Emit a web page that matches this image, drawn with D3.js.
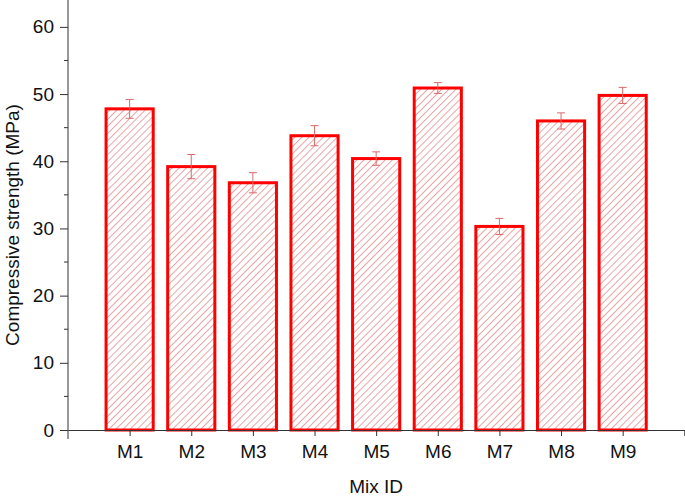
<!DOCTYPE html>
<html>
<head>
<meta charset="utf-8">
<script src="https://cdn.jsdelivr.net/npm/d3@7"></script>
<style>
  body { margin: 0; background: #fff; }
  text { font-family: "Liberation Sans", Arial, sans-serif; fill: #111; }
</style>
</head>
<body>
<script>
// data
const mixes = ["M1", "M2", "M3", "M4", "M5", "M6", "M7", "M8", "M9"];
const strength = [47.8, 39.2, 36.8, 43.8, 40.4, 50.9, 30.3, 46.0, 49.8];
const errs = [1.4, 1.8, 1.5, 1.5, 1.0, 0.8, 1.2, 1.2, 1.2];
const yTicks = [0, 10, 20, 30, 40, 50, 60];
const yMinor = [5, 15, 25, 35, 45, 55];

const WIDTH = 685
const HEIGHT = 497

const svg = d3.select("body").append("svg")
    .attr("width", WIDTH)
    .attr("height", HEIGHT)

// hatch pattern
const defs = svg.append("defs")
defs.append("pattern")
    .attr("id", "hatch")
    .attr("patternUnits", "userSpaceOnUse")
    .attr("width", 5)
    .attr("height", 5)
    .attr("patternTransform", "rotate(45)")
  .append("line")
    .attr("x1", 0).attr("y1", 0)
    .attr("x2", 0).attr("y2", 5)
    .attr("stroke", "#d86a6a")
    .attr("stroke-width", 1.2)

const x = d3.scaleLinear().domain([0, 10]).range([68, 684.3])
const y = d3.scaleLinear().domain([0, 64]).range([430, 0])
const step = x(1) - x(0)
const bw = step * 0.765

// bars
svg.selectAll("rect.bar")
  .data(strength)
  .enter()
  .append("rect")
  .attr("class", "bar")
  .attr("x", (d, i) => x(i + 1) - bw / 2)
  .attr("y", d => y(d))
  .attr("width", bw)
  .attr("height", d => y(0) - y(d))
  .attr("fill", "url(#hatch)")
  .attr("stroke", "#ff0000")
  .attr("stroke-width", 3)

// error bars
const eb = svg.append("g").attr("stroke", "#d96a6a").attr("stroke-width", 1)
strength.forEach((d, i) => {
  const cx = x(i + 1)
  eb.append("line").attr("x1", cx).attr("x2", cx).attr("y1", y(d + errs[i])).attr("y2", y(d - errs[i]))
  eb.append("line").attr("x1", cx - 4).attr("x2", cx + 4).attr("y1", y(d + errs[i])).attr("y2", y(d + errs[i]))
  eb.append("line").attr("x1", cx - 4).attr("x2", cx + 4).attr("y1", y(d - errs[i])).attr("y2", y(d - errs[i]))
})

// y axis
const yAxis = svg.append("g").attr("transform", "translate(68,0)")
  .call(d3.axisLeft(y).tickValues(yTicks).tickSize(8).tickPadding(6).tickSizeOuter(0))
yAxis.select(".domain").remove()
yAxis.selectAll(".tick text").style("font-size", "19px")
yAxis.selectAll(".tick line").attr("stroke", "#333")
yAxis.selectAll("line.minor")
  .data(yMinor)
  .enter()
  .append("line")
  .attr("class", "minor")
  .attr("x1", -4).attr("x2", 0)
  .attr("y1", d => y(d)).attr("y2", d => y(d))
  .attr("stroke", "#333")
svg.append("line")
  .attr("x1", 68).attr("x2", 68)
  .attr("y1", 0).attr("y2", 439)
  .attr("stroke", "#333")

// x axis
const xAxis = svg.append("g").attr("transform", "translate(0,430)")
  .call(d3.axisBottom(x).tickValues(d3.range(1, 11)).tickSize(6).tickPadding(9).tickSizeOuter(0)
    .tickFormat(d => mixes[d - 1] || ""))
xAxis.select(".domain").attr("stroke", "#333")
xAxis.selectAll(".tick line").attr("stroke", "#333")
xAxis.selectAll(".tick text").style("font-size", "19px")

// titles
svg.append("text")
  .attr("x", x(5)).attr("y", 493)
  .attr("text-anchor", "middle")
  .style("font-size", "19px")
  .text("Mix ID")

svg.append("text")
  .attr("transform", "translate(19,225) rotate(-90)")
  .attr("text-anchor", "middle")
  .style("font-size", "19px")
  .text("Compressive strength (MPa)")
</script>
</body>
</html>
